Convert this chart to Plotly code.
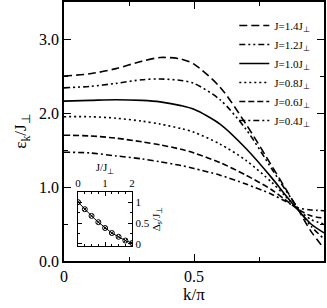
import plotly.graph_objects as go

# ---- data ----
k = [0.0, 0.1, 0.2, 0.3, 0.37, 0.45, 0.5, 0.6, 0.7, 0.8, 0.85, 0.9, 0.95, 1.0]
eps_14 = [2.50, 2.53, 2.60, 2.70, 2.75, 2.73, 2.66, 2.35, 1.85, 1.28, 0.99, 0.70, 0.40, 0.17]
eps_12 = [2.34, 2.36, 2.40, 2.45, 2.46, 2.44, 2.40, 2.18, 1.78, 1.24, 0.97, 0.71, 0.47, 0.30]
eps_10 = [2.16, 2.17, 2.18, 2.17, 2.15, 2.10, 2.05, 1.85, 1.52, 1.12, 0.90, 0.69, 0.50, 0.38]
eps_08 = [1.95, 1.95, 1.93, 1.89, 1.85, 1.79, 1.74, 1.58, 1.36, 1.06, 0.88, 0.70, 0.56, 0.50]
eps_06 = [1.70, 1.69, 1.66, 1.61, 1.57, 1.51, 1.46, 1.33, 1.16, 0.96, 0.83, 0.70, 0.61, 0.58]
eps_04 = [1.47, 1.46, 1.42, 1.38, 1.34, 1.29, 1.25, 1.16, 1.04, 0.90, 0.81, 0.72, 0.69, 0.68]
series_names = ["J=1.4J<sub>⊥</sub>", "J=1.2J<sub>⊥</sub>", "J=1.0J<sub>⊥</sub>",
                "J=0.8J<sub>⊥</sub>", "J=0.6J<sub>⊥</sub>", "J=0.4J<sub>⊥</sub>"]

inset_J = [0.0, 0.25, 0.5, 0.75, 1.0, 1.25, 1.5, 1.75, 2.0]
inset_gap = [1.0, 0.83, 0.67, 0.52, 0.38, 0.26, 0.17, 0.08, 0.02]

x_tickvals = [0, 0.5, 1]
x_ticktext = ["0", "0.5", "1"]
y_tickvals = [0, 1, 2, 3]
y_ticktext = ["0.0", "1.0", "2.0", "3.0"]
inset_x_tickvals = [0, 1, 2]
inset_x_ticktext = ["0", "1", "2"]
inset_y_tickvals = [0, 0.5, 1]
inset_y_ticktext = ["0", "0.5", "1"]

FONT = "Liberation Serif, Times New Roman, serif"
dashes = ["8px,4px", "6px,3px,2px,3px,2px,3px", "solid", "2px,3px", "6px,3px", "6px,3px,2px,3px"]

fig = go.Figure()
for name, ys, d in zip(series_names, [eps_14, eps_12, eps_10, eps_08, eps_06, eps_04], dashes):
    fig.add_trace(go.Scatter(x=k, y=ys, mode="lines", name=name,
                             line=dict(color="black", width=1.6, dash=d, shape="spline", smoothing=0.8)))

fig.add_trace(go.Scatter(x=inset_J, y=inset_gap, mode="lines+markers", showlegend=False,
                         xaxis="x2", yaxis="y2",
                         line=dict(color="black", width=1),
                         marker=dict(symbol="circle-x-open", size=5, color="black", line=dict(width=1))))

axis_common = dict(showline=True, linecolor="black", linewidth=1.5, mirror="allticks",
                   ticks="inside", tickcolor="black", showgrid=False, zeroline=False,
                   automargin=False)
inset_common = dict(showline=True, linecolor="black", linewidth=1.2, mirror="allticks",
                    ticks="inside", tickcolor="black", showgrid=False, zeroline=False,
                    automargin=False)

fig.update_layout(
    width=327, height=308,
    margin=dict(l=64, r=3, t=2, b=47, autoexpand=False),
    paper_bgcolor="white", plot_bgcolor="white",
    font=dict(family=FONT, color="black", size=16),
    showlegend=True,
    legend=dict(x=0.655, y=0.965, xanchor="left", yanchor="top", bgcolor="rgba(0,0,0,0)",
                font=dict(family=FONT, size=11, color="black"), itemwidth=30, tracegroupgap=0),
    xaxis=dict(range=[0, 1], tickvals=x_tickvals, ticktext=x_ticktext, ticklen=7, tickwidth=1,
               minor=dict(dtick=0.25, ticklen=4, ticks="inside", tickcolor="black"),
               title=dict(text="k/π", font=dict(family=FONT, size=17, color="black"), standoff=1),
               tickfont=dict(family=FONT, size=16, color="black"), **axis_common),
    yaxis=dict(range=[0, 3.5], tickvals=y_tickvals, ticktext=y_ticktext, ticklen=7, tickwidth=1,
               minor=dict(dtick=0.5, ticklen=4, ticks="inside", tickcolor="black"),
               title=dict(text="ε<sub>k</sub>/J<sub>⊥</sub>", font=dict(family=FONT, size=17, color="black"), standoff=8),
               tickfont=dict(family=FONT, size=16, color="black"), **axis_common),
    xaxis2=dict(domain=[0.054, 0.262], anchor="y2", side="top", range=[0, 2],
                tickvals=inset_x_tickvals, ticktext=inset_x_ticktext, ticklen=4, tickwidth=1,
                minor=dict(dtick=0.25, ticklen=2, ticks="inside", tickcolor="black"),
                title=dict(text="J/J<sub>⊥</sub>", font=dict(family=FONT, size=11, color="black"), standoff=2),
                tickfont=dict(family=FONT, size=11, color="black"), **inset_common),
    yaxis2=dict(domain=[0.058, 0.266], anchor="x2", side="right", range=[-0.05, 1.24],
                tickvals=inset_y_tickvals, ticktext=inset_y_ticktext, ticklen=4, tickwidth=1,
                minor=dict(dtick=0.25, ticklen=2, ticks="inside", tickcolor="black"),
                title=dict(text="Δ<sub>s</sub>/J<sub>⊥</sub>", font=dict(family=FONT, size=11, color="black"), standoff=2),
                tickfont=dict(family=FONT, size=11, color="black"), **inset_common),
)

fig.write_html("out.html", config={"displayModeBar": False},
               post_script="document.body.style.margin='0px';")
